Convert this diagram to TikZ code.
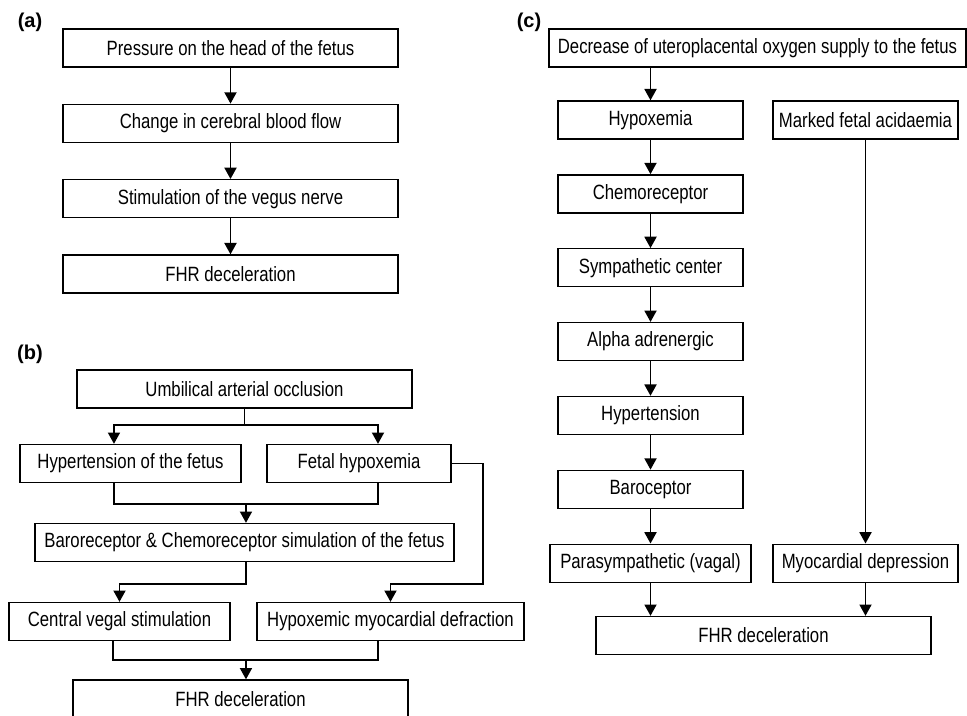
\documentclass[tikz,border=0pt]{standalone}
\usepackage{fontspec}
\setmainfont{Liberation Sans}[FakeStretch=0.81]
\newfontfamily\panelfont{Liberation Sans}
\usetikzlibrary{arrows.meta, positioning}
\tikzstyle{flow}=[x=0.75pt, y=-0.75pt, line width=1.4pt, >={Triangle[width=9pt,length=8.5pt]}]
\tikzstyle{box}=[draw, rectangle, line width=1pt, minimum height=28.5pt, inner sep=0pt, font=\fontsize{15.5pt}{17pt}\selectfont]
\tikzstyle{tag}=[font=\panelfont\bfseries\fontsize{15pt}{17pt}\selectfont]

\begin{document}
\begin{tikzpicture}[flow]
  \useasboundingbox (0,0) rectangle (967,716);
  % (a)
  \node[tag] (la) at (30,22) {(a)};
  \node[box, minimum width=251.25pt] (a1) at (230.5,48) {Pressure on the head of the fetus};
  \node[box, minimum width=251.25pt] (a2) [below=27pt of a1] {Change in cerebral blood flow};
  \node[box, minimum width=251.25pt] (a3) [below=27pt of a2] {Stimulation of the vegus nerve};
  \node[box, minimum width=251.25pt] (a4) [below=27pt of a3] {FHR deceleration};
  \path[->] (a1) edge (a2) (a2) edge (a3) (a3) edge (a4);

  % (b)
  \node[tag] (lb) at (30,354) {(b)};
  \node[box, minimum width=251.25pt] (umb) at (244.5,389) {Umbilical arterial occlusion};
  \node[box, minimum width=165.75pt] (hyp) at (130.5,463.5) {Hypertension of the fetus};
  \node[box, minimum width=138pt] (fhyp) at (359,463.5) {Fetal hypoxemia};
  \node[box, minimum width=314.25pt] (baro) at (244.5,542.5) {Baroreceptor \& Chemoreceptor simulation of the fetus};
  \node[box, minimum width=165.75pt] (cvs) at (119.5,621.5) {Central vegal stimulation};
  \node[box, minimum width=200.25pt] (hmd) at (390.5,621.5) {Hypoxemic myocardial defraction};
  \node[box, minimum width=251.25pt] (fhrb) at (240.5,699) {FHR deceleration};
  \draw[->] (umb.south) |- ([xshift=-12.4pt,yshift=14.25pt]hyp.north) -- ([xshift=-12.4pt]hyp.north);
  \draw[->] (umb.south) |- ([xshift=14.25pt,yshift=14.25pt]fhyp.north) -- ([xshift=14.25pt]fhyp.north);
  \draw ([xshift=-12.4pt]hyp.south) -- ++(0,21) -| ([xshift=14.25pt]fhyp.south);
  \draw[->] ([xshift=1.1pt,yshift=14.25pt]baro.north) -- ([xshift=1.1pt]baro.north);
  \draw[->] ([xshift=1.1pt]baro.south) -- ++(0,22) -| (cvs.north);
  \draw[->] (fhyp.east) -- ++(31,0) |- ([yshift=13.5pt]hmd.north) -- (hmd.north);
  \draw ([xshift=-4.9pt]cvs.south) -- ++(0,19) -| ([xshift=-9.4pt]hmd.south);
  \draw[->] ([xshift=4.1pt,yshift=15pt]fhrb.north) -- ([xshift=4.1pt]fhrb.north);

  % (c)
  \node[tag] (lc) at (529,22) {(c)};
  \node[box, minimum width=312.75pt] (dec) at (757.5,48) {Decrease of uteroplacental oxygen supply to the fetus};
  \node[box, minimum width=138.75pt] (hypox) at (650.5,120) {Hypoxemia};
  \node[box, minimum width=138.75pt] (mfa) at (865.5,120) {Marked fetal acidaemia};
  \node[box, minimum width=138.75pt] (chemo) [below=25.9pt of hypox] {Chemoreceptor};
  \node[box, minimum width=138.75pt] (symp) [below=25.9pt of chemo] {Sympathetic center};
  \node[box, minimum width=138.75pt] (alpha) [below=25.9pt of symp] {Alpha adrenergic};
  \node[box, minimum width=138.75pt] (hypert) [below=25.9pt of alpha] {Hypertension};
  \node[box, minimum width=138.75pt] (baroc) [below=25.9pt of hypert] {Baroceptor};
  \node[box, minimum width=150.75pt] (para) [below=25.9pt of baroc] {Parasympathetic (vagal)};
  \node[box, minimum width=138.75pt] (myo) at (mfa |- para) {Myocardial depression};
  \node[box, minimum width=251.25pt] (fhrc) at (763.5,635.5) {FHR deceleration};
  \draw[->] (dec.south -| hypox) -- (hypox.north);
  \path[->] (hypox) edge (chemo) (chemo) edge (symp) (symp) edge (alpha)
    (alpha) edge (hypert) (hypert) edge (baroc) (baroc) edge (para);
  \draw[->] (mfa) -- (myo);
  \draw[->] (para.south) -- (para.south |- fhrc.north);
  \draw[->] (myo.south) -- (myo.south |- fhrc.north);
\end{tikzpicture}
\end{document}
